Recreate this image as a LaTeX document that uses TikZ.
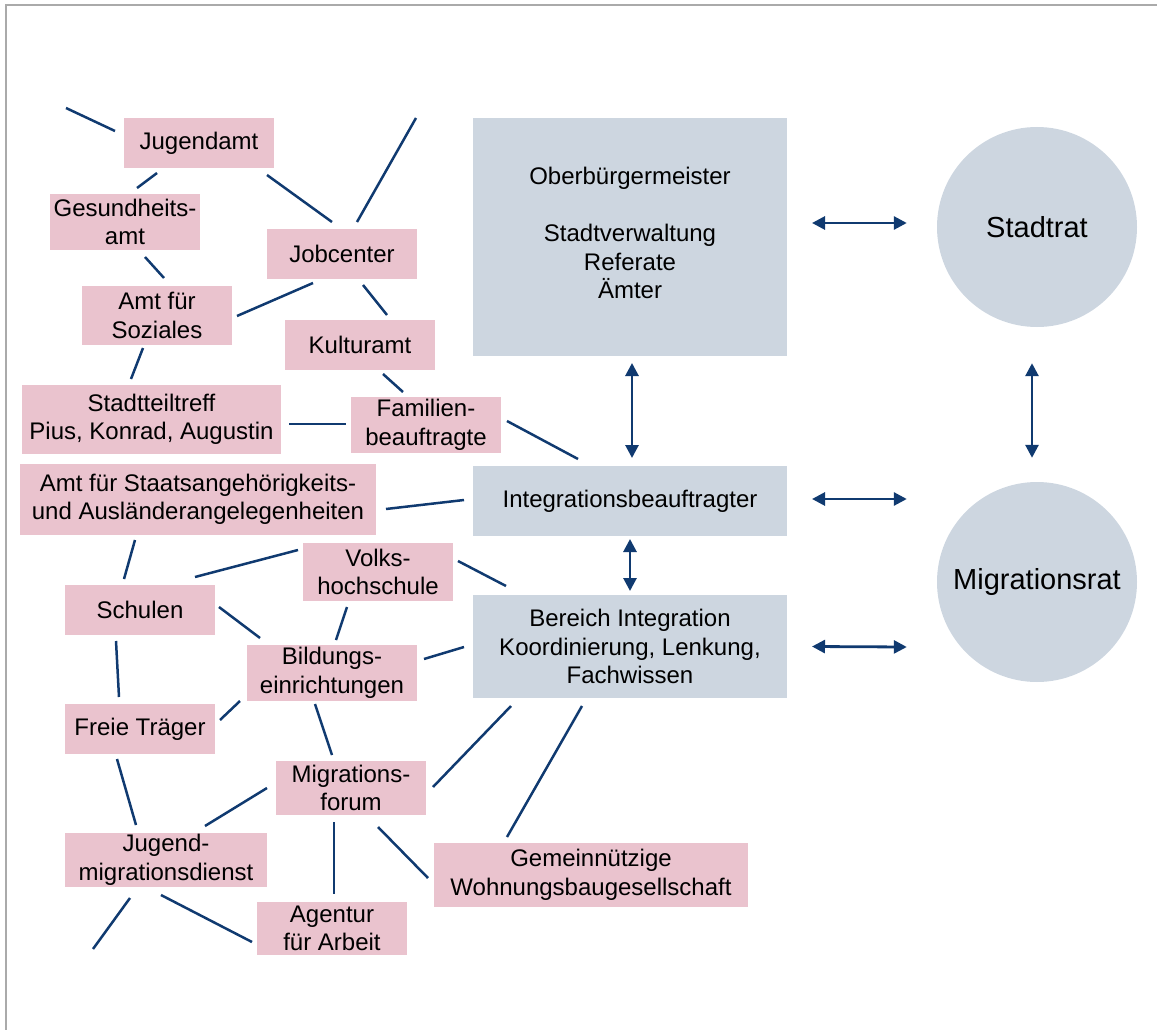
\documentclass[tikz,border=0pt]{standalone}
\usepackage{fontspec}
\setmainfont{Liberation Sans}
\usetikzlibrary{arrows.meta}
\definecolor{pinkfill}{HTML}{EAC3CE}
\definecolor{bluefill}{HTML}{CDD6E0}
\definecolor{linkcol}{HTML}{103A70}
\definecolor{framecol}{HTML}{AAAAAA}
\begin{document}
\begin{tikzpicture}[x=1pt,y=-1pt,
  base/.style={inner sep=0pt, outer sep=0pt, align=center,
    font=\fontsize{24}{28.5}\selectfont},
  pbox/.style={base, fill=pinkfill},
  bbox/.style={base, fill=bluefill},
  rat/.style={circle, fill=bluefill, inner sep=0pt, minimum size=200,
    font=\fontsize{29}{34}\selectfont},
  link/.style={draw=linkcol, line width=2.5pt},
  arr/.style={draw=linkcol, line width=2.8pt,
    {Triangle[length=13pt,width=13pt]}-{Triangle[length=13pt,width=13pt]}}]
\useasboundingbox (0,0) rectangle (1157,1030);
\draw[framecol, line width=1.5pt] (6,1030) -- (6,5) -- (1157,5);

% pink boxes
\node[pbox, minimum width=150, minimum height=50] (jug) at (199,143) {Jugendamt};
\node[pbox, minimum width=150, minimum height=56] (ges) at (125,222) {Gesundheits-\\amt};
\node[pbox, minimum width=150, minimum height=50] (job) at (342,254) {Jobcenter};
\node[pbox, minimum width=150, minimum height=59] (soz) at (157,315.5) {Amt für\\Soziales};
\node[pbox, minimum width=150, minimum height=50] (kul) at (360,345) {Kulturamt};
\node[pbox, minimum width=259, minimum height=69] (stt) at (151.5,419.5) {Stadtteiltreff\\Pius, Konrad, Augustin};
\node[pbox, minimum width=150, minimum height=56] (fam) at (426,425) {Familien-\\beauftragte};
\node[pbox, minimum width=356, minimum height=71] (sta) at (198,499.5) {Amt für Staatsangehörigkeits-\\und Ausländerangelegenheiten};
\node[pbox, minimum width=150, minimum height=58] (vhs) at (378,572) {Volks-\\hochschule};
\node[pbox, minimum width=150, minimum height=50] (sch) at (140,610) {Schulen};
\node[pbox, minimum width=170, minimum height=56] (bil) at (332,673) {Bildungs-\\einrichtungen};
\node[pbox, minimum width=150, minimum height=50] (fre) at (140,729) {Freie Träger};
\node[pbox, minimum width=150, minimum height=54] (mig) at (351,788) {Migrations-\\forum};
\node[pbox, minimum width=202, minimum height=54] (jmd) at (166,860) {Jugend-\\migrationsdienst};
\node[pbox, minimum width=150, minimum height=53] (aga) at (332,928.5) {Agentur\\für Arbeit};
\node[pbox, minimum width=314, minimum height=64] (gem) at (591,875) {Gemeinnützige\\Wohnungsbaugesellschaft};

% blue boxes
\node[bbox, minimum width=314, minimum height=238] (ob) at (630,237) {};
\node[base] (obt) at (630,233) {Oberbürgermeister\\[28.5pt]Stadtverwaltung\\Referate\\Ämter};
\node[bbox, minimum width=314, minimum height=70] (ib) at (630,501) {Integrationsbeauftragter};
\node[bbox, minimum width=314, minimum height=103] (bi) at (630,646.5) {Bereich Integration\\Koordinierung, Lenkung,\\Fachwissen};

% circles
\node[rat] (sr) at (1037,227) {Stadtrat};
\node[rat] (mr) at (1037,582) {Migrationsrat};

% free ends
\coordinate (f1) at (66,108);
\coordinate (f2) at (416,118);
\coordinate (f3) at (93,949);

% links
\draw[link] (f1) -- ([shift={(-9,13)}]jug.north west);
\draw[link] ([shift={(33,5)}]jug.south west) -- ([shift={(87,-6)}]ges.north west);
\draw[link] ([shift={(-7,7)}]jug.south east) -- ([shift={(65,-7)}]job.north west);
\draw[link] ([shift={(90,-7)}]job.north west) -- (f2);
\draw[link] ([shift={(95,7)}]ges.south west) -- ([shift={(82,-8)}]soz.north west);
\draw[link] ([shift={(46,4)}]job.south west) -- ([shift={(5,30)}]soz.north east);
\draw[link] ([shift={(96,6)}]job.south west) -- ([shift={(102,-5)}]kul.north west);
\draw[link] ([shift={(61,3)}]soz.south west) -- ([shift={(109,-6)}]stt.north west);
\draw[link] ([shift={(98,4)}]kul.south west) -- ([shift={(52,-5)}]fam.north west);
\draw[link] ([shift={(8,-30)}]stt.south east) -- ([shift={(-5,-29)}]fam.south west);
\draw[link] ([shift={(6,24)}]fam.north east) -- ([shift={(105,-7)}]ib.north west);
\draw[link] ([shift={(10,45)}]sta.north east) -- ([shift={(-9,34)}]ib.north west);
\draw[link] ([shift={(115,5)}]sta.south west) -- ([shift={(59,-6)}]sch.north west);
\draw[link] ([shift={(130,-8)}]sch.north west) -- ([shift={(-5,7)}]vhs.north west);
\draw[link] ([shift={(5,18)}]vhs.north east) -- ([shift={(33,-9)}]bi.north west);
\draw[link] ([shift={(4,22)}]sch.north east) -- ([shift={(13,-7)}]bil.north west);
\draw[link] ([shift={(44,6)}]vhs.south west) -- ([shift={(89,-5)}]bil.north west);
\draw[link] ([shift={(7,14)}]bil.north east) -- ([shift={(-9,52)}]bi.north west);
\draw[link] ([shift={(51,6)}]sch.south west) -- ([shift={(54,-7)}]fre.north west);
\draw[link] ([shift={(5,16)}]fre.north east) -- ([shift={(-7,0)}]bil.south west);
\draw[link] ([shift={(68,3)}]bil.south west) -- ([shift={(56,-6)}]mig.north west);
\draw[link] ([shift={(38,8)}]bi.south west) -- ([shift={(7,26)}]mig.north east);
\draw[link] ([shift={(109,8)}]bi.south west) -- ([shift={(73,-6)}]gem.north west);
\draw[link] ([shift={(52,5)}]fre.south west) -- ([shift={(71,-8)}]jmd.north west);
\draw[link] ([shift={(-9,27)}]mig.north west) -- ([shift={(140,-7)}]jmd.north west);
\draw[link] ([shift={(58,7)}]mig.south west) -- ([shift={(77,-8)}]aga.north west);
\draw[link] ([shift={(102,12)}]mig.south west) -- ([shift={(-6,35)}]gem.north west);
\draw[link] ([shift={(96,8)}]jmd.south west) -- ([shift={(-5,40)}]aga.north west);
\draw[link] ([shift={(65,11)}]jmd.south west) -- (f3);

% arrows
\draw[arr] ([shift={(25,105)}]ob.north east) -- ([shift={(-30,-4)}]sr.west);
\draw[arr] ([shift={(25,-2)}]ib.east) -- ([shift={(-30,-83)}]mr.west);
\draw[arr] ([shift={(25,0)}]bi.east) -- ([shift={(-30,65)}]mr.west);
\draw[arr] ([shift={(-5,36)}]sr.south) -- ([shift={(-5,-24)}]mr.north);
\draw[arr] ([shift={(2,7)}]ob.south) -- ([shift={(2,-8)}]ib.north);
\draw[arr] ([shift={(0,3)}]ib.south) -- ([shift={(0,-4)}]bi.north);
\end{tikzpicture}
\end{document}
